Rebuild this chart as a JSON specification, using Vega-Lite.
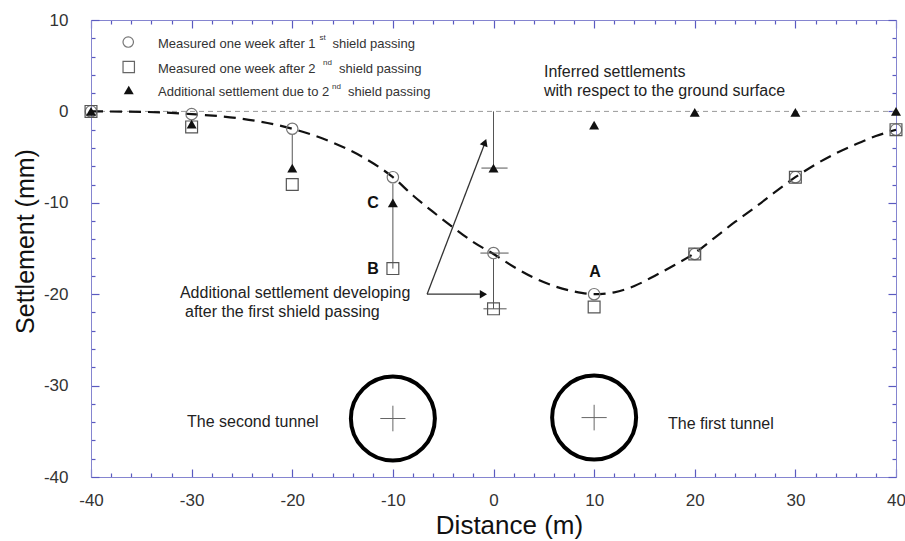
{
  "$schema": "https://vega.github.io/schema/vega-lite/v6.json",
  "width": 805,
  "height": 457,
  "autosize": "none",
  "padding": {"left": 91, "top": 20, "right": 9, "bottom": 64},
  "background": "white",
  "config": {
    "view": {"stroke": "#8585d0", "strokeWidth": 1},
    "font": "Liberation Sans",
    "axis": {
      "domainColor": "#8585d0",
      "tickColor": "#5a5ac0",
      "ticks": true,
      "tickWidth": 1.2,
      "labelFont": "Liberation Sans",
      "labelFontSize": 17,
      "labelColor": "#333333",
      "titleFont": "Liberation Sans",
      "titleFontWeight": "normal",
      "titleColor": "#111111",
      "grid": false,
      "labelOverlap": false,
      "labelFlush": false,
      "labelBound": false
    }
  },
  "datasets": {
    "zero": [{"x": -40, "y": 0}, {"x": 40, "y": 0}],
    "curve": [
      {"x": -40, "y": 0}, {"x": -35, "y": -0.05}, {"x": -30, "y": -0.3}, {"x": -25, "y": -0.8},
      {"x": -20, "y": -1.9}, {"x": -16, "y": -3.4}, {"x": -13, "y": -5.0}, {"x": -10, "y": -7.2},
      {"x": -8, "y": -9.2}, {"x": -6, "y": -11.0}, {"x": -4, "y": -12.7}, {"x": -2, "y": -14.3},
      {"x": 0, "y": -15.6}, {"x": 2, "y": -17.0}, {"x": 4, "y": -18.2}, {"x": 6, "y": -19.1},
      {"x": 8, "y": -19.7}, {"x": 10, "y": -20.0}, {"x": 12, "y": -19.8}, {"x": 14, "y": -19.1},
      {"x": 16, "y": -18.0}, {"x": 18, "y": -16.8}, {"x": 20, "y": -15.5}, {"x": 22, "y": -13.8},
      {"x": 24, "y": -12.1}, {"x": 26, "y": -10.5}, {"x": 28, "y": -8.8}, {"x": 30, "y": -7.2},
      {"x": 32, "y": -5.8}, {"x": 34, "y": -4.6}, {"x": 36, "y": -3.6}, {"x": 38, "y": -2.7},
      {"x": 40, "y": -2.0}
    ],
    "pts": [
      {"x": -40, "c": 0, "s": 0, "t": 0},
      {"x": -30, "c": -0.3, "s": -1.7, "t": -1.4},
      {"x": -20, "c": -1.9, "s": -8.0, "t": -6.2},
      {"x": -10, "c": -7.2, "s": -17.2, "t": -10.0},
      {"x": 0, "c": -15.5, "s": -21.6, "t": -6.2},
      {"x": 10, "c": -20.0, "s": -21.4, "t": -1.5},
      {"x": 20, "c": -15.6, "s": -15.6, "t": -0.1},
      {"x": 30, "c": -7.2, "s": -7.2, "t": -0.1},
      {"x": 40, "c": -2.0, "s": -2.0, "t": 0}
    ],
    "segs": [
      {"x": -20, "y": -2.55, "x2": -20, "y2": -6.2},
      {"x": -10, "y": -7.9, "x2": -10, "y2": -17.2},
      {"x": 0, "y": 0, "x2": 0, "y2": -6.2},
      {"x": 0, "y": -16.1, "x2": 0, "y2": -21.6},
      {"x": -1.2, "y": -6.2, "x2": 1.4, "y2": -6.2},
      {"x": -1.3, "y": -15.5, "x2": 1.5, "y2": -15.5},
      {"x": -1.0, "y": -21.6, "x2": 1.3, "y2": -21.6}
    ],
    "arrows": [
      {"x": -6.6, "y": -20.0, "x2": -0.8, "y2": -20.0},
      {"x": -6.6, "y": -20.0, "x2": -0.9, "y2": -3.6}
    ],
    "headRight": [{"x": -1.0, "y": -20.0}],
    "headUp": [{"x": -0.85, "y": -3.4}],
    "tunnels": [{"x": -10, "y": -33.6}, {"x": 10, "y": -33.5}],
    "crosses": [
      {"x": -11.25, "y": -33.6, "x2": -8.75, "y2": -33.6},
      {"x": -10, "y": -32.2, "x2": -10, "y2": -35.0},
      {"x": 8.75, "y": -33.5, "x2": 11.25, "y2": -33.5},
      {"x": 10, "y": -32.1, "x2": 10, "y2": -34.9}
    ],
    "legCircle": [{"x": -36.3, "y": 7.59}],
    "legSquare": [{"x": -36.25, "y": 4.86}],
    "legTri": [{"x": -36.25, "y": 2.34}],
    "legText": [
      {"x": -33.34, "y": 7.4, "text": "Measured one week after 1"},
      {"x": -33.34, "y": 4.65, "text": "Measured one week after 2"},
      {"x": -33.34, "y": 2.1, "text": "Additional settlement due to 2"},
      {"x": -16.0, "y": 7.4, "text": "shield passing"},
      {"x": -15.35, "y": 4.65, "text": "shield passing"},
      {"x": -14.46, "y": 2.1, "text": "shield passing"}
    ],
    "legSup": [
      {"x": -17.3, "y": 8.0, "text": "st"},
      {"x": -16.95, "y": 5.25, "text": "nd"},
      {"x": -16.05, "y": 2.7, "text": "nd"}
    ],
    "notes": [
      {"x": 5.02, "y": 4.31, "text": "Inferred settlements"},
      {"x": 5.02, "y": 2.22, "text": "with respect to the ground surface"},
      {"x": -31.16, "y": -19.85, "text": "Additional settlement developing"},
      {"x": -30.66, "y": -21.95, "text": "after the first shield passing"},
      {"x": -30.46, "y": -33.98, "text": "The second tunnel"},
      {"x": 17.34, "y": -34.2, "text": "The first tunnel"}
    ],
    "letters": [
      {"x": 10.09, "y": -17.57, "text": "A"},
      {"x": -11.98, "y": -17.24, "text": "B"},
      {"x": -11.98, "y": -10.0, "text": "C"}
    ]
  },
  "layer": [
    {
      "data": {"name": "zero"},
      "mark": {"type": "line", "color": "#9a9a9a", "strokeWidth": 1, "strokeDash": [5, 4]},
      "encoding": {
        "x": {
          "field": "x", "type": "quantitative",
          "scale": {"domain": [-40, 40], "nice": false, "zero": false},
          "axis": {
            "orient": "bottom",
            "values": [-40,-38,-36,-34,-32,-30,-28,-26,-24,-22,-20,-18,-16,-14,-12,-10,-8,-6,-4,-2,0,2,4,6,8,10,12,14,16,18,20,22,24,26,28,30,32,34,36,38,40],
            "labelExpr": "datum.value % 10 === 0 ? '' + datum.value : ''",
            "tickSize": {"condition": {"test": "datum.value % 10 === 0", "value": -8}, "value": -4},
            "labelPadding": 23,
            "title": "Distance (m)",
            "titleFontSize": 26,
            "titleX": 418,
            "titleY": 56,
            "titleAlign": "center",
            "titleBaseline": "alphabetic"
          }
        },
        "y": {
          "field": "y", "type": "quantitative",
          "scale": {"domain": [-40, 10], "nice": false, "zero": false},
          "axis": {
            "orient": "left",
            "values": [-40,-38,-36,-34,-32,-30,-28,-26,-24,-22,-20,-18,-16,-14,-12,-10,-8,-6,-4,-2,0,2,4,6,8,10],
            "labelExpr": "datum.value % 10 === 0 ? '' + datum.value : ''",
            "tickSize": {"condition": {"test": "datum.value % 10 === 0", "value": -8}, "value": -4},
            "labelPadding": 31,
            "title": "Settlement (mm)",
            "titleFontSize": 25,
            "titleAngle": -90,
            "titleX": -58,
            "titleY": 221,
            "titleAlign": "center",
            "titleBaseline": "alphabetic"
          }
        }
      }
    },
    {
      "data": {"name": "curve"},
      "mark": {"type": "line", "color": "#111111", "strokeWidth": 2.2, "strokeDash": [12, 7], "interpolate": "monotone"},
      "encoding": {
        "x": {
          "field": "x", "type": "quantitative",
          "scale": {"domain": [-40, 40], "nice": false, "zero": false},
          "axis": {
            "orient": "top",
            "values": [-40,-38,-36,-34,-32,-30,-28,-26,-24,-22,-20,-18,-16,-14,-12,-10,-8,-6,-4,-2,0,2,4,6,8,10,12,14,16,18,20,22,24,26,28,30,32,34,36,38,40],
            "labels": false,
            "tickSize": {"condition": {"test": "datum.value % 10 === 0", "value": -8}, "value": -4},
            "title": null
          }
        },
        "y": {
          "field": "y", "type": "quantitative",
          "scale": {"domain": [-40, 10], "nice": false, "zero": false},
          "axis": {
            "orient": "right",
            "values": [-40,-38,-36,-34,-32,-30,-28,-26,-24,-22,-20,-18,-16,-14,-12,-10,-8,-6,-4,-2,0,2,4,6,8,10],
            "labels": false,
            "tickSize": {"condition": {"test": "datum.value % 10 === 0", "value": -8}, "value": -4},
            "title": null
          }
        }
      }
    },
    {
      "data": {"name": "segs"},
      "mark": {"type": "rule", "color": "#555555", "strokeWidth": 1},
      "encoding": {
        "x": {"field": "x", "type": "quantitative", "axis": null},
        "y": {"field": "y", "type": "quantitative", "axis": null},
        "x2": {"field": "x2"},
        "y2": {"field": "y2"}
      }
    },
    {
      "data": {"name": "arrows"},
      "mark": {"type": "rule", "color": "#333333", "strokeWidth": 1.3},
      "encoding": {
        "x": {"field": "x", "type": "quantitative", "axis": null},
        "y": {"field": "y", "type": "quantitative", "axis": null},
        "x2": {"field": "x2"},
        "y2": {"field": "y2"}
      }
    },
    {
      "data": {"name": "headRight"},
      "mark": {"type": "point", "shape": "triangle-right", "filled": true, "color": "#111111", "size": 70, "opacity": 1},
      "encoding": {
        "x": {"field": "x", "type": "quantitative", "axis": null},
        "y": {"field": "y", "type": "quantitative", "axis": null}
      }
    },
    {
      "data": {"name": "headUp"},
      "mark": {"type": "point", "shape": "triangle-up", "filled": true, "color": "#111111", "size": 70, "angle": 21, "opacity": 1},
      "encoding": {
        "x": {"field": "x", "type": "quantitative", "axis": null},
        "y": {"field": "y", "type": "quantitative", "axis": null}
      }
    },
    {
      "data": {"name": "tunnels"},
      "mark": {"type": "point", "shape": "circle", "filled": false, "color": "#000000", "strokeWidth": 4, "size": 7056, "opacity": 1},
      "encoding": {
        "x": {"field": "x", "type": "quantitative", "axis": null},
        "y": {"field": "y", "type": "quantitative", "axis": null}
      }
    },
    {
      "data": {"name": "crosses"},
      "mark": {"type": "rule", "color": "#666666", "strokeWidth": 1},
      "encoding": {
        "x": {"field": "x", "type": "quantitative", "axis": null},
        "y": {"field": "y", "type": "quantitative", "axis": null},
        "x2": {"field": "x2"},
        "y2": {"field": "y2"}
      }
    },
    {
      "data": {"name": "pts"},
      "mark": {"type": "point", "shape": "circle", "filled": false, "color": "#777777", "strokeWidth": 1.2, "size": 130, "opacity": 1},
      "encoding": {
        "x": {"field": "x", "type": "quantitative", "axis": null},
        "y": {"field": "c", "type": "quantitative", "axis": null}
      }
    },
    {
      "data": {"name": "pts"},
      "mark": {"type": "point", "shape": "square", "filled": false, "color": "#555555", "strokeWidth": 1.2, "size": 140, "opacity": 1},
      "encoding": {
        "x": {"field": "x", "type": "quantitative", "axis": null},
        "y": {"field": "s", "type": "quantitative", "axis": null}
      }
    },
    {
      "data": {"name": "pts"},
      "mark": {"type": "point", "shape": "triangle-up", "filled": true, "color": "#111111", "size": 100, "opacity": 1},
      "encoding": {
        "x": {"field": "x", "type": "quantitative", "axis": null},
        "y": {"field": "t", "type": "quantitative", "axis": null}
      }
    },
    {
      "data": {"name": "legCircle"},
      "mark": {"type": "point", "shape": "circle", "filled": false, "color": "#777777", "strokeWidth": 1.2, "size": 110, "opacity": 1},
      "encoding": {
        "x": {"field": "x", "type": "quantitative", "axis": null},
        "y": {"field": "y", "type": "quantitative", "axis": null}
      }
    },
    {
      "data": {"name": "legSquare"},
      "mark": {"type": "point", "shape": "square", "filled": false, "color": "#666666", "strokeWidth": 1.2, "size": 130, "opacity": 1},
      "encoding": {
        "x": {"field": "x", "type": "quantitative", "axis": null},
        "y": {"field": "y", "type": "quantitative", "axis": null}
      }
    },
    {
      "data": {"name": "legTri"},
      "mark": {"type": "point", "shape": "triangle-up", "filled": true, "color": "#111111", "size": 100, "opacity": 1},
      "encoding": {
        "x": {"field": "x", "type": "quantitative", "axis": null},
        "y": {"field": "y", "type": "quantitative", "axis": null}
      }
    },
    {
      "data": {"name": "legText"},
      "mark": {"type": "text", "align": "left", "baseline": "middle", "fontSize": 13, "font": "Liberation Sans", "color": "#333333"},
      "encoding": {
        "x": {"field": "x", "type": "quantitative", "axis": null},
        "y": {"field": "y", "type": "quantitative", "axis": null},
        "text": {"field": "text"}
      }
    },
    {
      "data": {"name": "legSup"},
      "mark": {"type": "text", "align": "left", "baseline": "middle", "fontSize": 8, "font": "Liberation Sans", "color": "#333333"},
      "encoding": {
        "x": {"field": "x", "type": "quantitative", "axis": null},
        "y": {"field": "y", "type": "quantitative", "axis": null},
        "text": {"field": "text"}
      }
    },
    {
      "data": {"name": "notes"},
      "mark": {"type": "text", "align": "left", "baseline": "middle", "fontSize": 16, "font": "Liberation Sans", "color": "#222222"},
      "encoding": {
        "x": {"field": "x", "type": "quantitative", "axis": null},
        "y": {"field": "y", "type": "quantitative", "axis": null},
        "text": {"field": "text"}
      }
    },
    {
      "data": {"name": "letters"},
      "mark": {"type": "text", "align": "center", "baseline": "middle", "fontSize": 16, "fontWeight": "bold", "font": "Liberation Sans", "color": "#111111"},
      "encoding": {
        "x": {"field": "x", "type": "quantitative", "axis": null},
        "y": {"field": "y", "type": "quantitative", "axis": null},
        "text": {"field": "text"}
      }
    }
  ],
  "resolve": {"axis": {"x": "independent", "y": "independent"}}
}
